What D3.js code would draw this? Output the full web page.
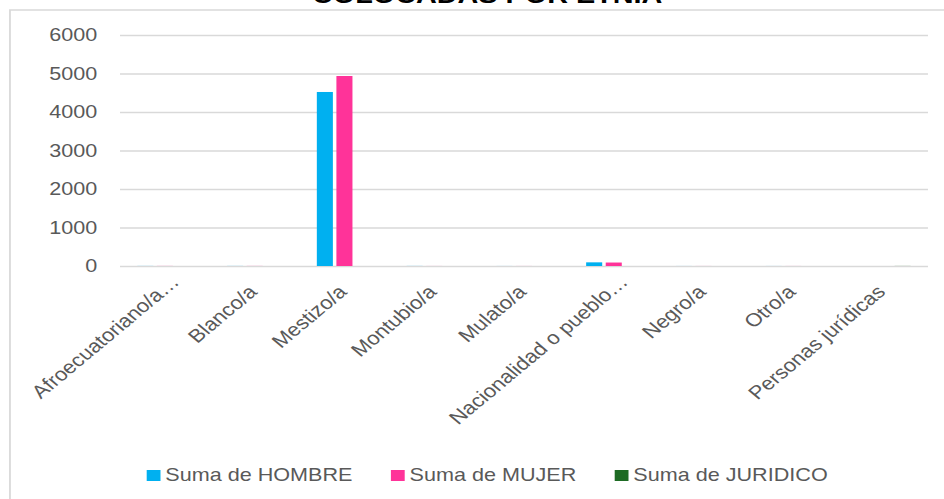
<!DOCTYPE html>
<html>
<head>
<meta charset="utf-8">
<script src="https://cdn.jsdelivr.net/npm/d3@7"></script>
<style>
  body { margin: 0; background: #fff; }
  svg { display: block; font-family: "Liberation Sans", Arial, sans-serif; }
</style>
</head>
<body>
<div id="vis"></div>
<script>
// data
const categories = ["Afroecuatoriano/a…", "Blanco/a", "Mestizo/a", "Montubio/a", "Mulato/a",
                    "Nacionalidad o pueblo…", "Negro/a", "Otro/a", "Personas jurídicas"];
const hombre   = [2, 2, 4520, 2, 1, 95, 1, 1, 0];
const mujer    = [2, 2, 4935, 1, 1, 90, 1, 1, 0];
const juridico = [0, 0, 0, 0, 0, 0, 0, 0, 2];
const seriesNames = ["Suma de HOMBRE", "Suma de MUJER", "Suma de JURIDICO"];
const seriesColors = ["#00B0F0", "#FF3399", "#1E6B24"];
const yTicks = [0, 1000, 2000, 3000, 4000, 5000, 6000];
const title = "COLOCADAS POR ETNIA";

// the reference is stretched horizontally, so draw narrow and stretch
const STRETCH = 1.2;
const FRAME_WIDTH = 944 / STRETCH;
const FRAME_HEIGHT = 499;
const PLOT = {left: 100, right: 773.3, top: 35, bottom: 266};

const svg = d3.select("#vis")
  .append("svg")
    .attr("width", 944)
    .attr("height", FRAME_HEIGHT)
    .attr("viewBox", `0 0 ${FRAME_WIDTH} ${FRAME_HEIGHT}`)
    .attr("preserveAspectRatio", "none");

// chart border
svg.append("rect")
  .attr("x", 8.3).attr("y", 10)
  .attr("width", 900).attr("height", 600)
  .attr("fill", "#fff")
  .attr("stroke", "#D9D9D9")
  .attr("stroke-width", 1.5);

// title (cut by the top edge, as in the original)
svg.append("text")
  .attr("x", 406).attr("y", 3)
  .attr("text-anchor", "middle")
  .attr("font-size", 24)
  .attr("font-weight", "bold")
  .attr("fill", "#000")
  .text(title);

const X0 = d3.scaleBand()
  .domain(categories)
  .range([PLOT.left, PLOT.right])
  .paddingInner(0.385)
  .paddingOuter(0.1925);

const X1 = d3.scaleBand()
  .domain(seriesNames)
  .range([0, X0.bandwidth()])
  .paddingInner(0.18);

const Y = d3.scaleLinear()
  .domain([0, 6000])
  .range([PLOT.bottom, PLOT.top]);

// gridlines
svg.append("g")
  .attr("transform", `translate(${PLOT.left},0)`)
  .call(d3.axisLeft(Y).tickValues(yTicks).tickSize(-(PLOT.right - PLOT.left)).tickFormat(""))
  .call(g => g.select(".domain").remove())
  .call(g => g.selectAll("line").attr("stroke", "#D9D9D9").attr("stroke-width", 1.5));

// y labels
svg.append("g")
  .attr("transform", `translate(${PLOT.left - 19},0)`)
  .call(d3.axisLeft(Y).tickValues(yTicks).tickSize(0).tickPadding(0).tickFormat(d3.format("d")))
  .call(g => g.select(".domain").remove())
  .call(g => g.selectAll("text")
    .attr("font-family", "Liberation Sans, Arial, sans-serif")
    .attr("font-size", 18)
    .attr("fill", "#595959"));

// bars
const rows = categories.map((c, i) => ({cat: c, vals: [hombre[i], mujer[i], juridico[i]]}));

svg.append("g").selectAll("g")
  .data(rows)
  .join("g")
    .attr("transform", d => `translate(${X0(d.cat)},0)`)
  .selectAll("rect")
  .data(d => d.vals.map((v, k) => ({key: seriesNames[k], v: v, k: k})))
  .join("rect")
    .attr("x", d => X1(d.key))
    .attr("y", d => Y(d.v))
    .attr("width", X1.bandwidth())
    .attr("height", d => Y(0) - Y(d.v))
    .attr("fill", d => seriesColors[d.k]);

// x labels, rotated
svg.append("g").selectAll("text")
  .data(categories)
  .join("text")
    .attr("transform", d => `translate(${X0(d) + X0.bandwidth() / 2 + 3},${PLOT.bottom + 27}) rotate(-45)`)
    .attr("dx", d => d.endsWith("…") ? 14 : 0)
    .attr("text-anchor", "end")
    .attr("font-size", 18.5)
    .attr("fill", "#595959")
    .text(d => d);

// legend
const legend = svg.append("g");
let lx = 0;
seriesNames.forEach((name, k) => {
  const g = legend.append("g").attr("transform", `translate(${lx},0)`);
  g.append("rect")
    .attr("x", 0).attr("y", -11)
    .attr("width", 11.5).attr("height", 11)
    .attr("fill", seriesColors[k]);
  const t = g.append("text")
    .attr("x", 15.5).attr("y", 0)
    .attr("font-size", 18)
    .attr("fill", "#595959")
    .text(name);
  lx += 15.5 + t.node().getComputedTextLength() + 32;
});
const legendWidth = lx - 32;
legend.attr("transform", `translate(${406 - legendWidth / 2},481)`);
</script>
</body>
</html>
